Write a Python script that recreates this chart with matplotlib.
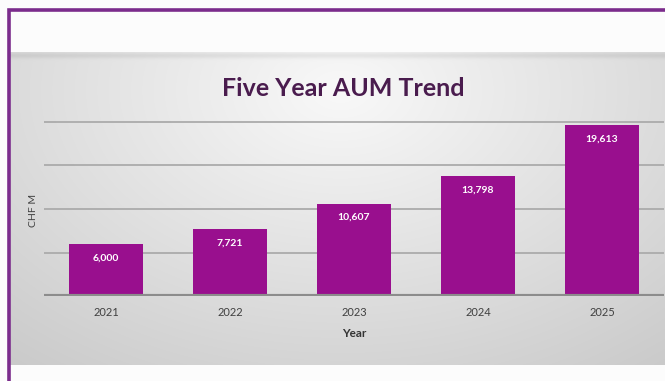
import numpy as np
import matplotlib
matplotlib.use("Agg")
import matplotlib.pyplot as plt
from matplotlib.lines import Line2D

# Data
years = ["2021", "2022", "2023", "2024", "2025"]
aum = [6000, 7721, 10607, 13798, 19613]
labels = ["6,000", "7,721", "10,607", "13,798", "19,613"]
grid_levels = [5000, 10000, 15000, 20000]

W, H = 665, 381
fig = plt.figure(figsize=(W / 100, H / 100), dpi=100)
fig.patch.set_facecolor("white")

# Background: soft grey panel with a lighter centre
bg = fig.add_axes([0, 0, 1, 1], zorder=0)
bg.set_xlim(0, W)
bg.set_ylim(H, 0)
bg.axis("off")
yy, xx = np.mgrid[0:H, 0:W]
r = np.sqrt(((xx - 340) / 430.0) ** 2 + ((yy - 90) / 290.0) ** 2)
val = np.clip(0.975 - 0.15 * r, 0.79, 0.975)
# soft shadow along the top of the panel
shade = np.exp(-((yy - 55) / 3.0) ** 2) * 0.06
val = val - shade
img = np.dstack([val, val, val])
mask = (yy >= 52) & (yy <= 364) & (xx >= 10)
img[~mask] = 0.99
bg.imshow(img, extent=(0, W, H, 0), aspect="auto", interpolation="bilinear")

# Frame border
bg.add_line(Line2D([9, 9, W], [H, 10, 10], color="#7b2c8c", lw=2.6,
                   solid_joinstyle="miter"))

# Main chart
ax = fig.add_axes([44 / W, 85 / H, 620 / W, 191.4 / H], zorder=1)
ax.patch.set_alpha(0)
x = np.arange(len(years))
ax.set_xlim(-0.5, len(years) - 0.5)
ax.set_ylim(0, 22000)

for g in grid_levels:
    ax.axhline(g, color="#ababab", lw=1.3, zorder=1)
ax.axhline(0, color="#8c8c8c", lw=3.0, zorder=3)

ax.bar(x, aum, width=0.59, color="#990f8e", zorder=2)

for xi, v, lab in zip(x, aum, labels):
    ax.annotate(lab, (xi, v), xytext=(0, -10), textcoords="offset points",
                ha="center", va="center", color="white", fontsize=7.5,
                fontweight="bold", family="Lato")

for s in ax.spines.values():
    s.set_visible(False)
ax.set_yticks([])
ax.set_xticks(x)
ax.set_xticklabels(years, fontsize=8, color="#404040", family="Lato")
ax.tick_params(axis="x", length=0, pad=8)
ax.set_xlabel("Year", fontsize=8.5, fontweight="bold", color="#333333",
              family="Lato", labelpad=7)

fig.text(33 / W, 1 - 210 / H, "CHF M", rotation=90, ha="center", va="center",
         fontsize=7.5, color="#404040", family="Lato")

fig.text(343 / W, 1 - 88 / H, "Five Year AUM Trend", ha="center", va="center",
         fontsize=18, fontweight="bold", color="#4a1c4e", family="Lato")

fig.savefig("out.png", dpi=100)
